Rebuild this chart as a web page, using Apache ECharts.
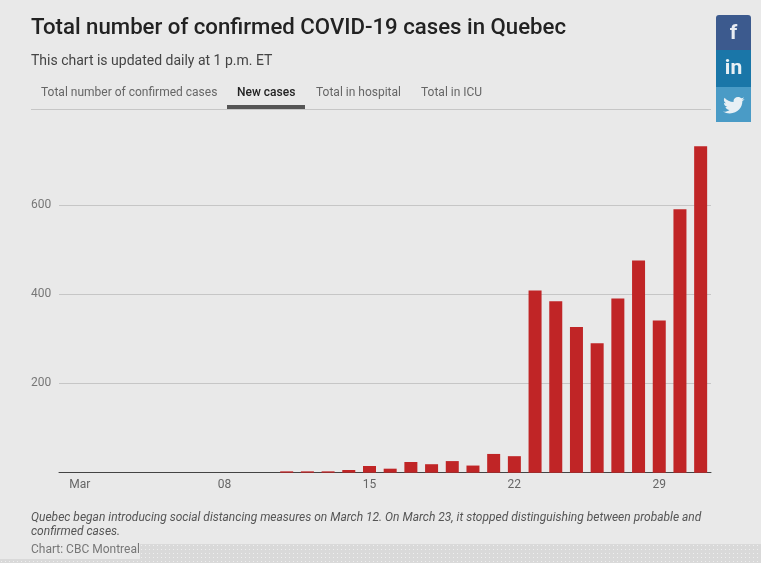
<!DOCTYPE html>
<html lang="en" style="height: 100%">
<head>
  <meta charset="utf-8">
  <title>Total number of confirmed COVID-19 cases in Quebec</title>
  <script src="https://cdn.jsdelivr.net/npm/echarts@6/dist/echarts.min.js"></script>
</head>
<body style="height: 100%; margin: 0; background: #e9e9e9">
  <div id="chart" style="width: 761px; height: 563px"></div>

  <script>
    // day of March, new cases that day
    const days = [11, 12, 13, 14, 15, 16, 17, 18, 19, 20, 21, 22, 23, 24, 25, 26, 27, 28, 29, 30, 31];
    const newCases = [3, 3, 3, 6, 15, 9, 24, 19, 26, 16, 42, 37, 408, 384, 326, 290, 390, 475, 341, 590, 731];
    const tickDays = [1, 8, 15, 22, 29];
    const tickLabels = ['Mar', '08', '15', '22', '29'];
    const tabs = [
      ['Total number of confirmed cases', 41, false],
      ['New cases', 237, true],
      ['Total in hospital', 316, false],
      ['Total in ICU', 421, false]
    ];

    const font = 'Roboto';

    function text(str, left, top, size, color, extra) {
      return {
        text: str, left: left, top: top, padding: 0,
        textStyle: Object.assign({ fontFamily: font, fontSize: size, color: color, fontWeight: 400 }, extra || {})
      };
    }

    // dotted strip along the bottom of the screenshot
    const dots = document.createElement('canvas');
    dots.width = dots.height = 4;
    const dctx = dots.getContext('2d');
    dctx.fillStyle = '#d9d9d9';
    dctx.fillRect(0, 0, 4, 4);
    dctx.fillStyle = '#efefef';
    dctx.fillRect(1, 1, 1, 1);

    const birdPath = 'M24 4.6c-.9.4-1.8.7-2.8.8 1-.6 1.8-1.6 2.2-2.7-1 .6-2 1-3.1 1.2C19.3 2.9 18 2.3 16.6 2.3c-2.7 0-4.9 2.2-4.9 4.9 0 .4 0 .8.1 1.1C7.7 8.1 4.1 6.1 1.7 3.1c-.4.7-.7 1.6-.7 2.5 0 1.7.9 3.2 2.2 4.1-.8 0-1.6-.2-2.2-.6v.1c0 2.4 1.7 4.4 3.9 4.8-.4.1-.8.2-1.3.2-.3 0-.6 0-.9-.1.6 2 2.4 3.4 4.6 3.4-1.7 1.3-3.8 2.1-6.1 2.1-.4 0-.8 0-1.2-.1 2.2 1.4 4.8 2.2 7.5 2.2 9.1 0 14-7.5 14-14v-.6c1-.7 1.8-1.6 2.5-2.5z';
    echarts.graphic.registerShape('bird', echarts.graphic.extendPath(birdPath, {}));

    const myChart = echarts.init(document.getElementById('chart'));

    myChart.setOption({
      backgroundColor: '#e9e9e9',
      animation: false,
      title: [
        text('Total number of confirmed COVID-19 cases in Quebec', 31, 17, 22.2, '#222', { fontWeight: 500 }),
        text('This chart is updated daily at 1 p.m. ET', 31, 54, 14, '#444'),
        ...tabs.map(t => text(t[0], t[1], 87, 12, t[2] ? '#222' : '#666', { fontWeight: t[2] ? 500 : 400 })),
        text('Quebec began introducing social distancing measures on March 12. On March 23, it stopped distinguishing between probable and', 31, 512, 12, '#555', { fontStyle: 'italic' }),
        text('confirmed cases.', 31, 526, 12, '#555', { fontStyle: 'italic' }),
        text('Chart: CBC Montreal', 31, 544, 12, '#777')
      ],
      grid: { left: 59, top: 133.3, width: 652, height: 339.4 },
      xAxis: {
        type: 'value',
        min: 0,
        max: 31.5,
        splitLine: { show: false },
        axisLine: { show: true, onZero: false, lineStyle: { color: '#444', width: 1 } },
        axisTick: { show: false },
        axisLabel: {
          customValues: tickDays,
          formatter: v => tickLabels[tickDays.indexOf(v)],
          color: '#666', fontFamily: font, fontSize: 12, margin: 6
        }
      },
      yAxis: {
        type: 'value',
        min: 0,
        max: 760,
        interval: 200,
        axisLine: { show: false },
        axisTick: { show: false },
        axisLabel: {
          customValues: [200, 400, 600],
          color: '#777', fontFamily: font, fontSize: 12, align: 'left', margin: 28
        },
        splitLine: {
          show: true,
          showMinLine: false,
          showMaxLine: false,
          lineStyle: { color: '#c6c6c6', width: 1 }
        }
      },
      series: [{
        name: 'New cases',
        type: 'bar',
        barWidth: 13,
        itemStyle: { color: '#c02526' },
        data: days.map((d, i) => [d, newCases[i]]),
        z: 3
      }],
      graphic: [
        { type: 'rect', silent: true, shape: { x: 31, y: 109, width: 680, height: 1 }, style: { fill: '#c6c6c6' } },
        { type: 'rect', silent: true, shape: { x: 227, y: 105, width: 78, height: 4 }, style: { fill: '#555' } },
        { type: 'rect', silent: true, shape: { x: 140, y: 544, width: 621, height: 19 }, style: { fill: { image: dots, repeat: 'repeat' } } },
        { type: 'rect', silent: true, shape: { x: 0, y: 559, width: 140, height: 4 }, style: { fill: { image: dots, repeat: 'repeat' } } },
        { type: 'rect', silent: true, shape: { x: 716, y: 15, width: 35, height: 36, r: [3, 3, 0, 0] }, style: { fill: '#3c5a8e' } },
        { type: 'rect', silent: true, shape: { x: 716, y: 50, width: 35, height: 37 }, style: { fill: '#1a76a8' } },
        { type: 'rect', silent: true, shape: { x: 716, y: 87, width: 35, height: 35 }, style: { fill: '#4a9bc6' } },
        { type: 'text', silent: true, x: 733.5, y: 34, style: { text: 'f', fill: '#e8edf3', font: 'bold 21px Roboto', align: 'center', verticalAlign: 'middle' } },
        { type: 'text', silent: true, x: 733.5, y: 69, style: { text: 'in', fill: '#e8f0f5', font: 'bold 21px Roboto', align: 'center', verticalAlign: 'middle' } },
        { type: 'bird', silent: true, x: 723, y: 95, scaleX: 0.9, scaleY: 0.85, style: { fill: '#e8f0f5' } }
      ]
    });
  </script>
</body>
</html>
